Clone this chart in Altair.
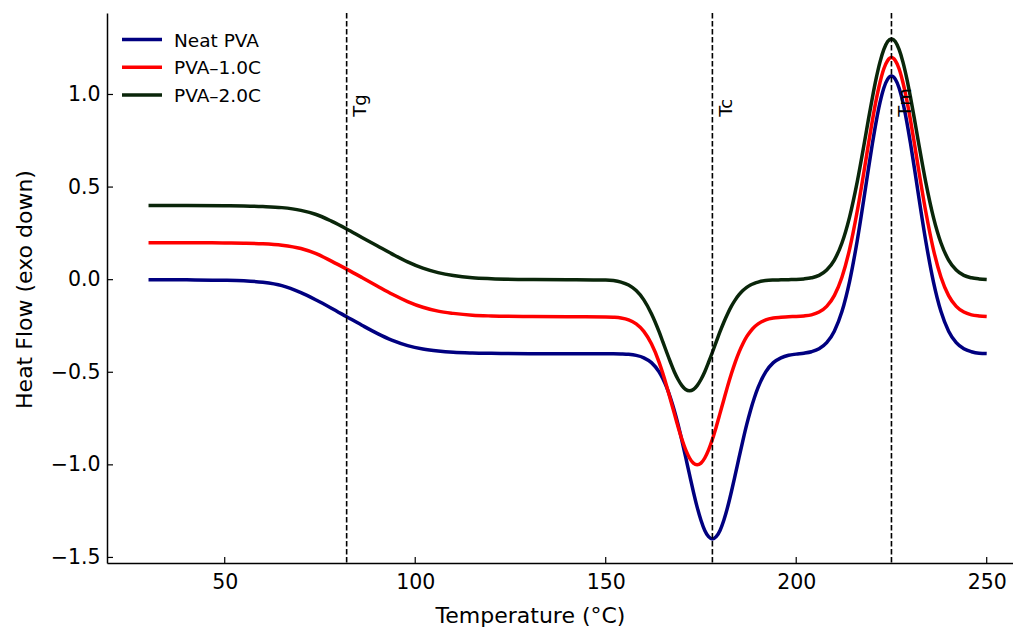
import altair as alt
import pandas as pd

# ---------------- data ----------------
temps = [30, 40, 50, 55, 60, 65, 70, 74, 78, 82, 86, 90, 94, 98, 102, 106, 110, 115, 120, 130, 140,
         150, 152, 154, 156, 158, 160, 162, 164, 165, 166, 167, 168, 169, 170, 171, 172, 173, 174,
         175, 176, 177, 178, 179, 180, 181, 182, 183, 184, 185, 186, 187, 188, 189, 190, 192, 194,
         196, 198, 200, 202, 204, 206, 208, 210, 212, 214, 216, 218, 219, 220, 221, 222, 223, 224,
         225, 226, 227, 228, 229, 230, 231, 232, 234, 236, 238, 240, 242, 244, 246, 248, 250]

neat_pva = [0.000, -0.001, -0.003, -0.006, -0.014, -0.032, -0.070, -0.110, -0.154, -0.200, -0.246,
            -0.290, -0.328, -0.356, -0.374, -0.385, -0.392, -0.396, -0.398, -0.400, -0.400,
            -0.400, -0.400, -0.401, -0.403, -0.409, -0.422, -0.448, -0.498, -0.535, -0.582, -0.639,
            -0.706, -0.783, -0.869, -0.960, -1.053, -1.144, -1.228, -1.299, -1.354, -1.388, -1.400,
            -1.388, -1.354, -1.299, -1.228, -1.144, -1.053, -0.960, -0.869, -0.783, -0.706, -0.639,
            -0.582, -0.498, -0.448, -0.422, -0.408, -0.402, -0.397, -0.389, -0.373, -0.340, -0.278,
            -0.172, -0.010, 0.209, 0.469, 0.605, 0.735, 0.855, 0.957, 1.035, 1.083, 1.100, 1.083,
            1.035, 0.957, 0.855, 0.735, 0.605, 0.469, 0.209, -0.010, -0.172, -0.278, -0.340, -0.373,
            -0.389, -0.397, -0.399]

pva_1c = [0.200, 0.200, 0.198, 0.197, 0.194, 0.186, 0.168, 0.140, 0.100, 0.057, 0.012,
          -0.034, -0.079, -0.118, -0.149, -0.170, -0.182, -0.192, -0.196, -0.199, -0.200,
          -0.201, -0.203, -0.207, -0.217, -0.239, -0.279, -0.346, -0.445, -0.507, -0.575, -0.648,
          -0.722, -0.795, -0.862, -0.919, -0.963, -0.991, -1.000, -0.991, -0.963, -0.919, -0.862,
          -0.795, -0.722, -0.648, -0.575, -0.507, -0.445, -0.391, -0.346, -0.308, -0.279, -0.256,
          -0.239, -0.217, -0.207, -0.203, -0.200, -0.199, -0.196, -0.190, -0.175, -0.144, -0.086,
          0.013, 0.164, 0.368, 0.611, 0.738, 0.860, 0.972, 1.066, 1.139, 1.184, 1.200, 1.184,
          1.139, 1.066, 0.972, 0.860, 0.738, 0.611, 0.368, 0.164, 0.013, -0.086, -0.144, -0.175,
          -0.190, -0.196, -0.199]

pva_2c = [0.400, 0.400, 0.399, 0.398, 0.395, 0.389, 0.374, 0.352, 0.316, 0.274, 0.228,
          0.183, 0.138, 0.096, 0.062, 0.038, 0.022, 0.010, 0.005, 0.001, 0.000,
          -0.002, -0.005, -0.013, -0.029, -0.059, -0.109, -0.184, -0.281, -0.336, -0.392, -0.446,
          -0.497, -0.539, -0.572, -0.593, -0.600, -0.593, -0.572, -0.539, -0.497, -0.446, -0.392,
          -0.336, -0.281, -0.230, -0.184, -0.143, -0.109, -0.081, -0.059, -0.042, -0.029, -0.020,
          -0.013, -0.005, -0.002, -0.001, 0.000, 0.001, 0.004, 0.010, 0.023, 0.052, 0.106,
          0.198, 0.338, 0.527, 0.753, 0.871, 0.984, 1.088, 1.176, 1.243, 1.286, 1.300, 1.286,
          1.243, 1.176, 1.088, 0.984, 0.871, 0.753, 0.527, 0.338, 0.198, 0.106, 0.052, 0.023,
          0.010, 0.004, 0.001]

series_names = ["Neat PVA", "PVA\u20131.0C", "PVA\u20132.0C"]
series_colors = ["#000080", "#ff0000", "#0a260a"]

marker_temps = [82, 178, 225]
marker_labels = ["Tg", "Tc", "Tm"]
marker_label_y = 0.88

x_ticks = [50, 100, 150, 200, 250]
y_ticks = [-1.5, -1.0, -0.5, 0.0, 0.5, 1.0]

# ---------------- chart ----------------
FONT = "DejaVu Sans"
W, H = 906, 550

xscale = alt.Scale(domain=[19.1, 256.9], nice=False, zero=False)
yscale = alt.Scale(domain=[-1.53, 1.44], nice=False, zero=False)

x_axis = alt.Axis(values=x_ticks, format="d", title="Temperature (\u00b0C)", grid=False,
                  ticks=False, tickSize=0, labelPadding=25, labelBaseline="alphabetic",
                  labelFlush=False, labelFontSize=20.5, labelColor="black", labelFont=FONT,
                  domainColor="black", domainWidth=1.5,
                  titleFontSize=22, titleFontWeight="normal", titleColor="black", titleFont=FONT,
                  titleX=423, titleY=59, titleAlign="center", titleBaseline="alphabetic")
y_axis = alt.Axis(values=y_ticks, format=".1f", title="Heat Flow (exo down)", grid=False,
                  ticks=False, tickSize=0, labelPadding=7, labelFontSize=20.5, labelColor="black",
                  labelFont=FONT, domainColor="black", domainWidth=1.5,
                  titleFontSize=22, titleFontWeight="normal", titleColor="black", titleFont=FONT,
                  titleX=-76, titleY=276, titleAngle=270, titleAlign="center",
                  titleBaseline="alphabetic")


def X(field):
    return alt.X(field, scale=xscale, axis=x_axis)


def Y(field):
    return alt.Y(field, scale=yscale, axis=y_axis)


series_values = [neat_pva, pva_1c, pva_2c]
layers = []
for name, vals, col in zip(series_names, series_values, series_colors):
    df = pd.DataFrame({"T": temps, "hf": vals})
    layers.append(
        alt.Chart(df).mark_line(color=col, strokeWidth=3.5, interpolate="monotone", clip=True)
        .encode(x=X("T:Q"), y=Y("hf:Q"))
    )

marker_df = pd.DataFrame({"T": marker_temps, "label": marker_labels,
                          "hf": [marker_label_y] * len(marker_temps)})
vlines = alt.Chart(marker_df).mark_rule(color="black", strokeWidth=1.6, strokeDash=[5.5, 2.5]).encode(
    x=X("T:Q")
)
vtext = alt.Chart(marker_df).mark_text(angle=270, align="left", baseline="alphabetic", dy=19.5,
                                       fontSize=18, font=FONT, color="black").encode(
    x=X("T:Q"), y=Y("hf:Q"), text="label:N",
)

# inward ticks
xt_df = pd.DataFrame({"T": x_ticks})
yt_df = pd.DataFrame({"hf": y_ticks})
xticks = alt.Chart(xt_df).mark_rule(color="black", strokeWidth=1.2).encode(
    x=X("T:Q"), y=alt.value(H), y2=alt.value(H - 6)
)
yticks = alt.Chart(yt_df).mark_rule(color="black", strokeWidth=1.2).encode(
    y=Y("hf:Q"), x=alt.value(0), x2=alt.value(6)
)

# legend (drawn manually, top-left, no frame)
legend_layers = []
for i, (name, col) in enumerate(zip(series_names, series_colors)):
    row_y = 26.5 + 27.8 * i
    one = pd.DataFrame({"label": [name]})
    legend_layers.append(
        alt.Chart(one).mark_rule(color=col, strokeWidth=3.5).encode(
            x=alt.value(15), x2=alt.value(55), y=alt.value(row_y))
    )
    legend_layers.append(
        alt.Chart(one).mark_text(align="left", baseline="alphabetic", fontSize=18.5, font=FONT,
                                 color="black").encode(
            x=alt.value(67), y=alt.value(row_y + 7), text="label:N")
    )

chart = alt.layer(*layers, vlines, vtext, xticks, yticks, *legend_layers).properties(
    width=W, height=H,
    autosize=alt.AutoSizeParams(type="none"),
    padding={"left": 99, "top": 5, "right": 0, "bottom": 64},
).configure(font=FONT).configure_view(stroke=None)

chart.save("out.html", embed_options={"renderer": "svg", "actions": False})
